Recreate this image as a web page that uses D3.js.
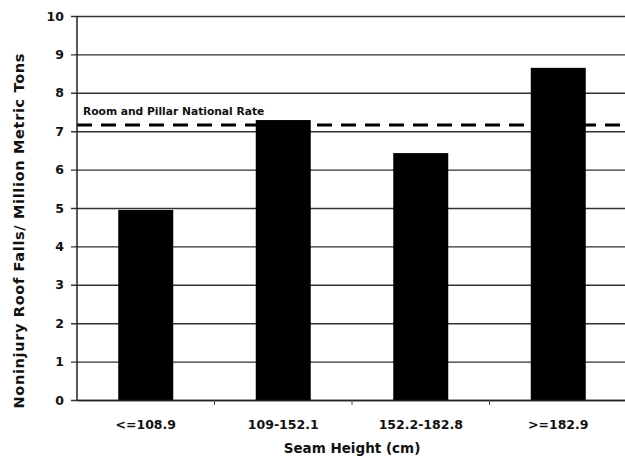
<!DOCTYPE html>
<html>
	<head>
		<meta charset="utf-8"/>
		<script src="https://d3js.org/d3.v7.min.js"></script>
		<style>
			body { margin: 0; background: #fff; }
			text { font-family: 'DejaVu Sans', sans-serif; font-weight: bold; fill: #111; }
			.grid line { stroke: #333; stroke-width: 1.4; }
			.axis path { stroke: #222; stroke-width: 1.5; }
			.x.axis line { stroke: #444; }
		</style>
	</head>
	<body>
		<div id="graph"></div>
		<script>
			// values
			var categories = ['<=108.9', '109-152.1', '152.2-182.8', '>=182.9'];
			var rates = [4.95, 7.29, 6.43, 8.65];
			var nationalRate = 7.16;
			var yTicks = [0, 1, 2, 3, 4, 5, 6, 7, 8, 9, 10];

			var W = 625, H = 464;
			var m = [16, -2, 64, 77]; // top, right, bottom, left
			var w = W - m[1] - m[3];
			var h = H - m[0] - m[2];

			var svg = d3.select('#graph').append('svg')
				.attr('width', W)
				.attr('height', H);
			var g = svg.append('g').attr('transform', `translate(${m[3]},${m[0]})`);

			var x = d3.scaleBand().domain(categories).range([0, w]).paddingInner(0.6).paddingOuter(0.3);
			var y = d3.scaleLinear().domain([0, 10]).range([h, 0]);

			// gridlines + y labels
			var yAxis = g.append('g').attr('class', 'grid')
				.call(d3.axisLeft(y).tickValues(yTicks).tickSize(-w).tickSizeOuter(0));
			yAxis.select('.domain').remove();
			yAxis.selectAll('line').attr('x1', -6);
			yAxis.selectAll('text').attr('x', -13).style('font-size', '12.5px');

			// national rate
			g.append('line')
				.attr('x1', 0).attr('x2', w + 2)
				.attr('y1', y(nationalRate)).attr('y2', y(nationalRate))
				.style('stroke', '#000').style('stroke-width', 3)
				.style('stroke-dasharray', '15,9');
			g.append('text')
				.attr('x', 6).attr('y', y(nationalRate) - 10)
				.style('font-size', '10.7px')
				.text('Room and Pillar National Rate');

			// bars
			g.selectAll('rect.bar').data(rates).enter().append('rect')
				.attr('class', 'bar')
				.attr('x', (d, i) => x(categories[i]))
				.attr('width', x.bandwidth())
				.attr('y', d => y(d))
				.attr('height', d => h - y(d))
				.style('fill', '#000');

			// axis lines
			g.append('line').attr('x1', 0).attr('x2', 0).attr('y1', 0).attr('y2', h)
				.style('stroke', '#222').style('stroke-width', 1.5);
			var xAxis = g.append('g').attr('class', 'x axis')
				.attr('transform', `translate(0,${h})`)
				.call(d3.axisBottom(x).tickSize(0).tickPadding(20));
			xAxis.selectAll('text').style('font-size', '12.5px');
			// small ticks between the categories
			xAxis.selectAll('line.sep').data(categories.slice(1)).enter().append('line')
				.attr('class', 'sep')
				.attr('x1', d => x(d) - x.step() * x.paddingInner() / 2)
				.attr('x2', d => x(d) - x.step() * x.paddingInner() / 2)
				.attr('y1', 0).attr('y2', 5)
				.style('stroke', '#444');

			// titles
			svg.append('text')
				.attr('x', m[3] + w / 2).attr('y', 453)
				.attr('text-anchor', 'middle')
				.style('font-size', '13.5px')
				.text('Seam Height (cm)');
			svg.append('text')
				.attr('transform', `translate(24,231) rotate(-90)`)
				.attr('text-anchor', 'middle')
				.attr('textLength', 355)
				.style('font-size', '14.5px')
				.text('Noninjury Roof Falls/ Million Metric Tons');
		</script>
	</body>
</html>
